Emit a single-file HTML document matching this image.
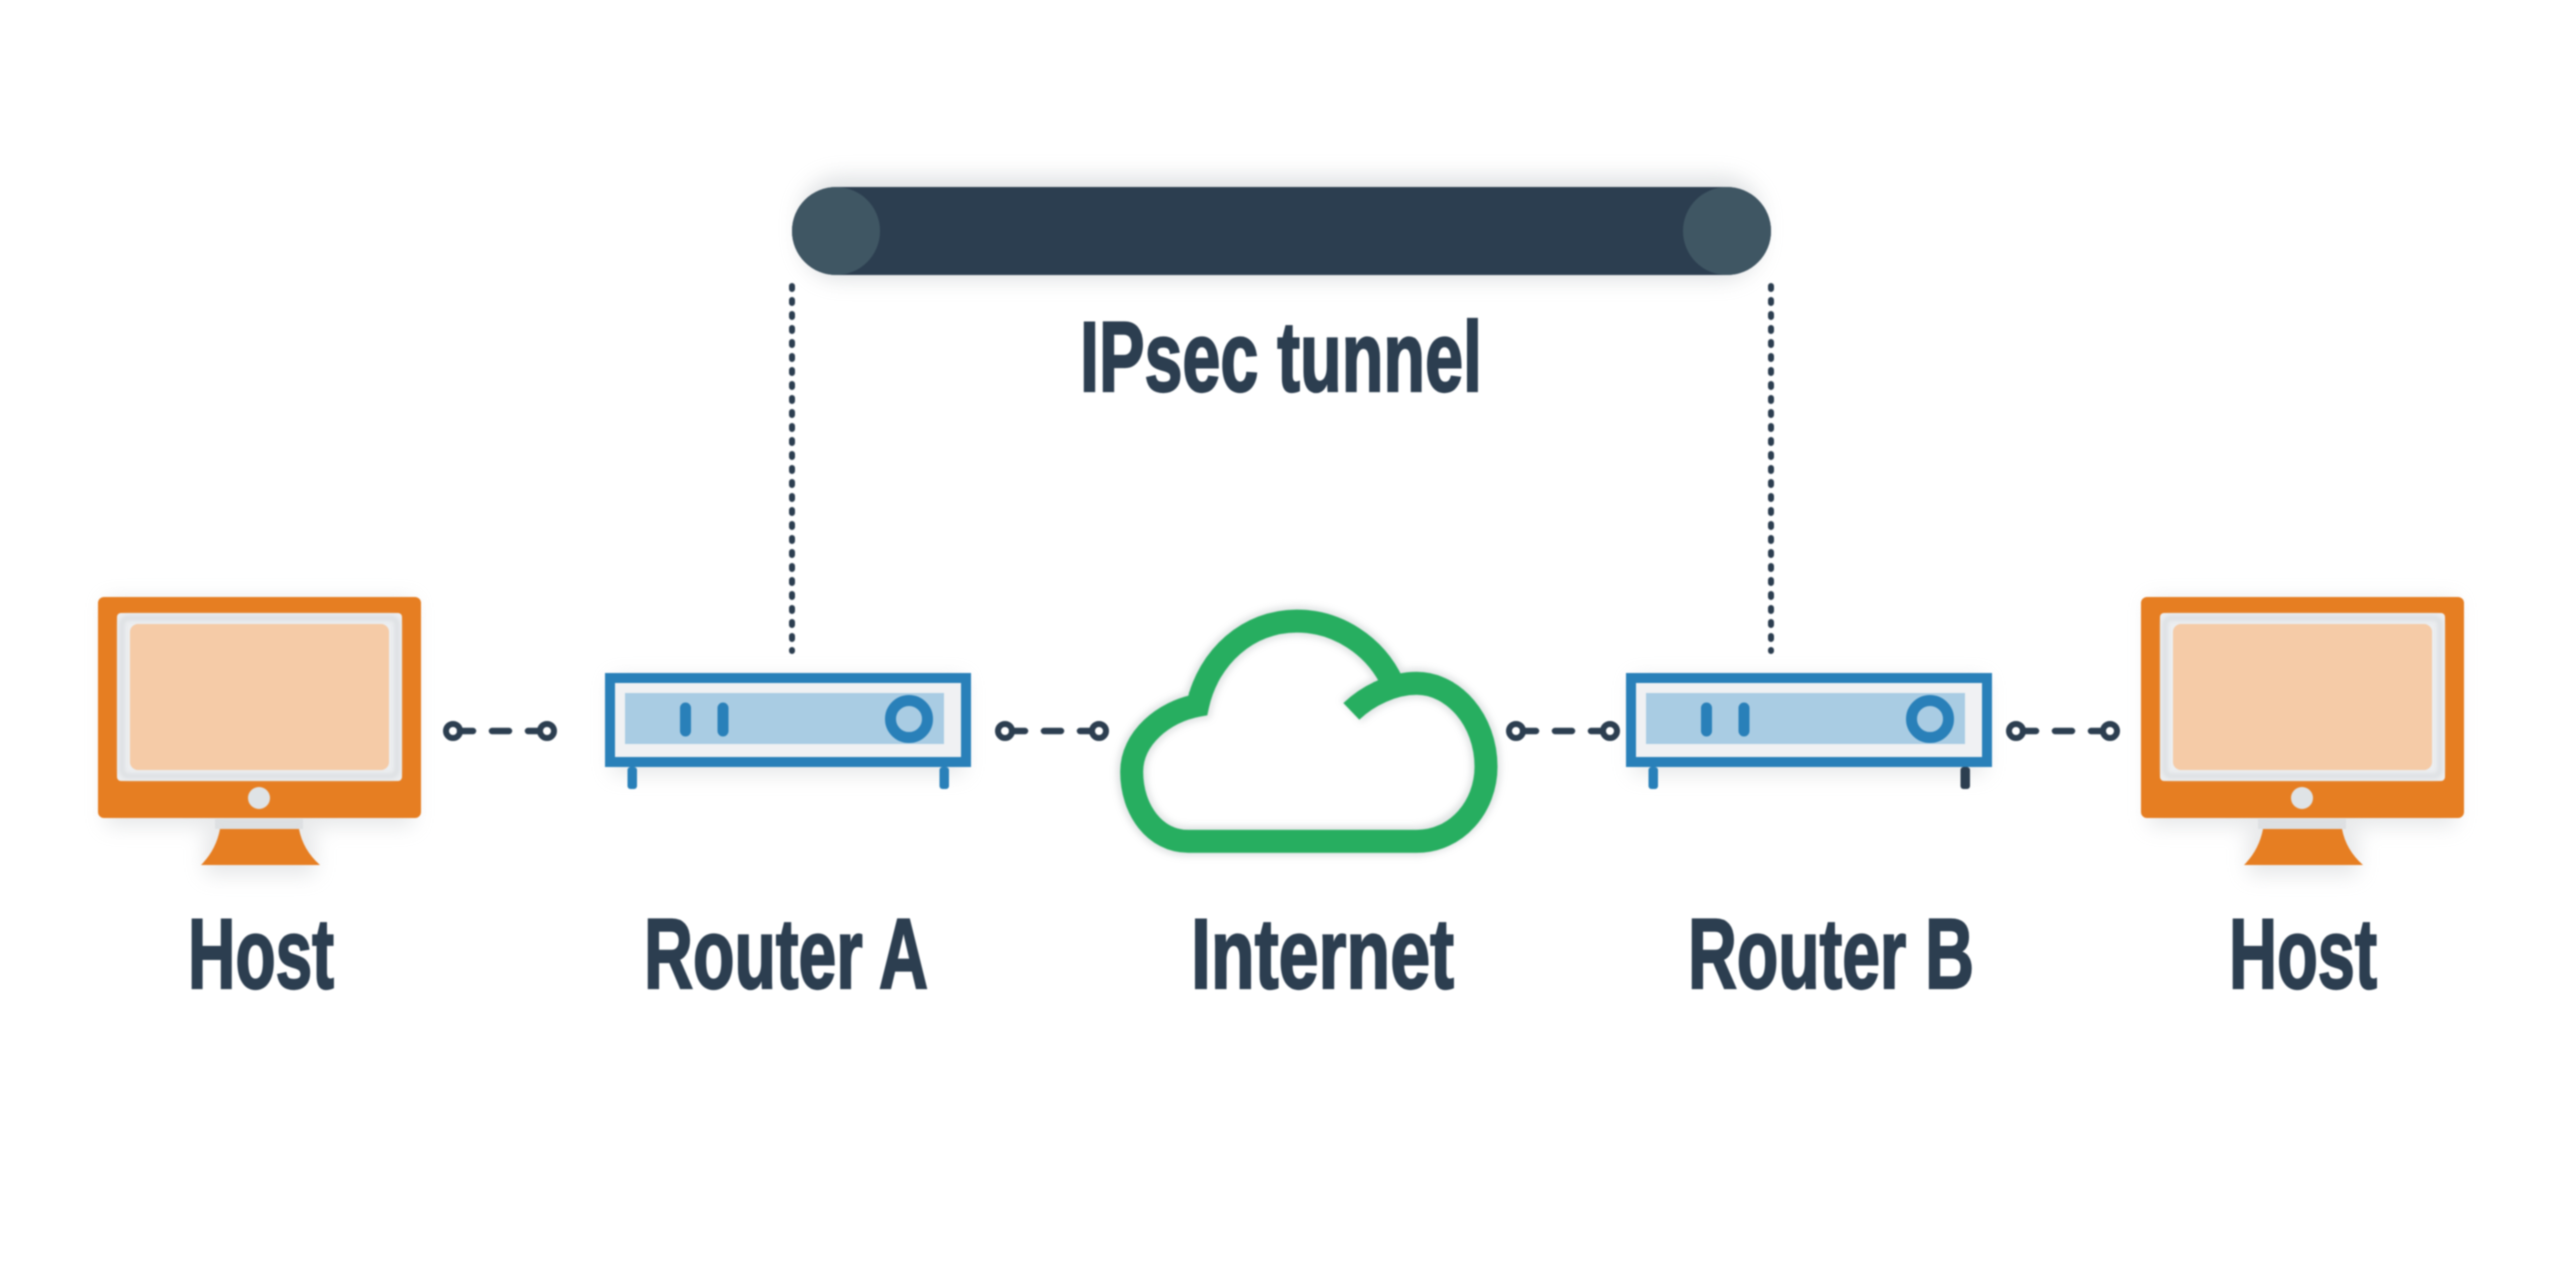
<!DOCTYPE html>
<html>
<head>
<meta charset="utf-8">
<style>
html,body{margin:0;padding:0;background:#fff;width:2560px;height:1281px;overflow:hidden}
svg{display:block}
text{font-family:"Liberation Sans Narrow","Liberation Sans",sans-serif;font-weight:700;font-size:99px;fill:#2c3e50;stroke:#2c3e50;stroke-width:2.2px}
.soft{filter:blur(.7px)}
</style>
</head>
<body>
<svg xmlns="http://www.w3.org/2000/svg" width="2560" height="1281" viewBox="0 0 2560 1281">
<defs>
<filter id="s" x="-20%" y="-30%" width="140%" height="160%"><feGaussianBlur stdDeviation="10"/></filter>
<filter id="i" x="-10%" y="-10%" width="120%" height="120%"><feGaussianBlur stdDeviation="2"/></filter>
<g id="monitor">
  <path d="M106 600H413V826H106Z M205 829H315V875H205Z" fill="#b8bcc0" opacity=".35" filter="url(#s)"/>
  <rect x="98" y="597" width="323" height="221" rx="6" fill="#e67e22"/>
  <rect x="117" y="613" width="285" height="168" rx="4" fill="#eceef0"/>
  <rect x="122" y="618" width="275" height="158" rx="6" fill="none" stroke="#dcdfe2" stroke-width="5" filter="url(#i)"/>
  <rect x="130" y="624" width="259" height="146" rx="8" fill="#f5cba7"/>
  <ellipse cx="259" cy="798" rx="11" ry="11" fill="#dfe3e6"/>
  <rect x="215" y="819" width="88" height="10" fill="#d5d8dc" opacity=".6"/>
  <path d="M220 829H299Q303 850 320 865H201Q216 850 220 829Z" fill="#e67e22"/>
</g>
<g id="router">
  <rect x="612" y="678" width="352" height="96" fill="#b8bcc0" opacity=".35" filter="url(#s)"/>
  <rect x="610" y="678" width="356" height="84" fill="#f0f1f3" stroke="#2980b9" stroke-width="10"/>
  <rect x="625" y="693" width="319" height="51" fill="#a9cce3"/>
  <path d="M685.500 708V731M723 708V731" stroke="#2980b9" stroke-width="11" stroke-linecap="round"/>
  <circle cx="909" cy="719" r="18.500" fill="#a9cce3" stroke="#2980b9" stroke-width="11"/>
  <rect x="627.500" y="767" width="9.500" height="22" rx="3" fill="#2980b9"/>
</g>
<g id="link">
  <circle cx="453" cy="731" r="7" fill="#fff" stroke="#2c3e50" stroke-width="6"/>
  <path d="M460 731H473M492 731H509M528 731H540" stroke="#2c3e50" stroke-width="6.500" stroke-linecap="round"/>
  <circle cx="547" cy="731" r="7" fill="#fff" stroke="#2c3e50" stroke-width="6"/>
</g>
</defs>

<rect width="2560" height="1281" fill="#fff"/>

<g class="soft">
<!-- Tunnel -->
<rect x="800" y="176" width="962" height="104" rx="40" fill="#a8aeb3" opacity=".35" filter="url(#s)"/>
<rect x="792" y="187" width="979" height="88" rx="44" fill="#2c3e50"/>
<circle cx="836" cy="231" r="44" fill="#3f5663"/>
<circle cx="1727" cy="231" r="44" fill="#3f5663"/>
<path d="M792 286V651M1771 286V651" stroke="#2c3e50" stroke-width="6" stroke-dasharray="3 11" stroke-linecap="round" fill="none"/>

<text x="1080" y="391" textLength="402" lengthAdjust="spacingAndGlyphs">IPsec tunnel</text>

<!-- Nodes -->
<use href="#monitor"/>
<use href="#monitor" transform="translate(2043 0)"/>
<use href="#router"/>
<rect x="939.500" y="767" width="9.500" height="22" rx="3" fill="#2980b9"/>
<use href="#router" transform="translate(1021 0)"/>
<rect x="1960.500" y="767" width="9.500" height="22" rx="3" fill="#2c3e50"/>

<use href="#link"/>
<use href="#link" transform="translate(552 0)"/>
<use href="#link" transform="translate(1063 0)"/>
<use href="#link" transform="translate(1563 0)"/>

<!-- Cloud -->
<g transform="translate(1100 590) scale(.33333)">
<path d="M754 364C805 315 880 280 950 280C1060 280 1158 390 1158 530C1158 650 1070 740 950 754L265 754C165 754 95 660 95 545C95 445 190 365 293 346C325 200 445 93 590 93C710 93 825 165 878 280" fill="none" stroke="#a8aeb3" stroke-opacity=".35" stroke-width="90" filter="url(#s)"/>
<path d="M754 364C805 315 880 280 950 280C1060 280 1158 390 1158 530C1158 650 1070 754 950 754L265 754C165 754 95 660 95 545C95 445 190 365 293 346C325 200 445 93 590 93C710 93 825 165 878 280" fill="none" stroke="#27ae60" stroke-width="69" stroke-linejoin="miter"/>
</g>

<!-- Labels -->
<text x="188" y="988" textLength="146" lengthAdjust="spacingAndGlyphs">Host</text>
<text x="644" y="988" textLength="284" lengthAdjust="spacingAndGlyphs">Router A</text>
<text x="1191" y="988" textLength="263" lengthAdjust="spacingAndGlyphs">Internet</text>
<text x="1688" y="988" textLength="286" lengthAdjust="spacingAndGlyphs">Router B</text>
<text x="2229" y="988" textLength="148" lengthAdjust="spacingAndGlyphs">Host</text>
</g>
</svg>
</body>
</html>
